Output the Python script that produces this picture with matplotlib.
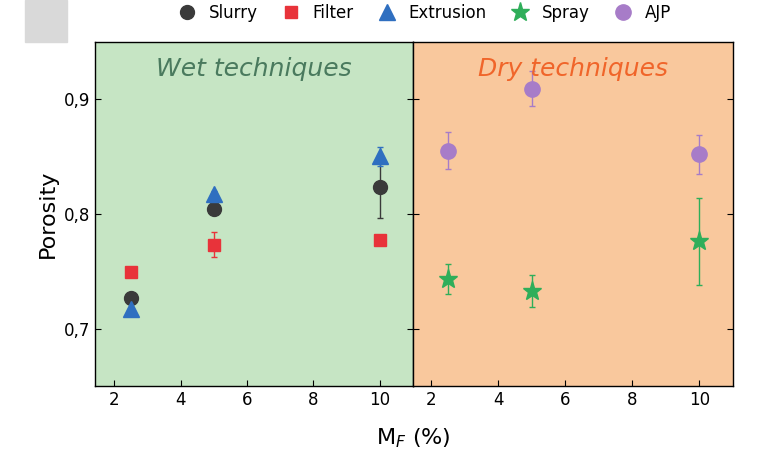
import matplotlib
matplotlib.use("Agg")
import matplotlib.pyplot as plt
from matplotlib.patches import Rectangle
from matplotlib.lines import Line2D

x = [2.5, 5, 10]
slurry = [0.727, 0.804, 0.823]; slurry_err = [0.003, 0.003, 0.027]
filt = [0.749, 0.773, 0.777]; filt_err = [0.003, 0.011, 0.003]
extr = [0.717, 0.817, 0.850]; extr_err = [0.006, 0.003, 0.008]
spray = [0.743, 0.733, 0.776]; spray_err = [0.013, 0.014, 0.038]
ajp = [0.855, 0.909, 0.852]; ajp_err = [0.016, 0.015, 0.017]
xticks = [2, 4, 6, 8, 10]
yticks = [0.7, 0.8, 0.9]
ylabels = ["0,7", "0,8", "0,9"]

fig = plt.figure(figsize=(7.65, 4.51), dpi=100)
fig.patches.append(Rectangle((25/765, 1-42/451), 42/765, 42/451, transform=fig.transFigure, color="#d9d9d9", zorder=0))
ax1 = fig.add_axes([95/765, 65/451, 318/765, 344/451])
ax2 = fig.add_axes([413/765, 65/451, 320/765, 344/451], sharey=ax1)
ax1.set_facecolor("#c6e5c4"); ax2.set_facecolor("#f9c89d")
ax1.set_xlim(1.42, 11.0); ax2.set_xlim(1.46, 11.0)
ax1.set_ylim(0.65, 0.9496)
ms = 11
styles = [("o", "#3a3a3a", ms-1, "Slurry"), ("s", "#e8333a", ms-2, "Filter"),
          ("^", "#2f6fc0", ms, "Extrusion"), ("*", "#2fae5a", ms+3, "Spray"), ("o", "#a77cc8", ms, "AJP")]
data = [(ax1, slurry, slurry_err), (ax1, filt, filt_err), (ax1, extr, extr_err), (ax2, spray, spray_err), (ax2, ajp, ajp_err)]
h = []
for (m, c, s, lab), (ax, y, e) in zip(styles, data):
    ax.errorbar(x, y, yerr=e, fmt=m, color=c, ms=s, capsize=2, lw=1)
    h.append(Line2D([], [], ls="", marker=m, color=c, ms=s, label=lab))
for ax in (ax1, ax2):
    ax.set_xticks(xticks)
    ax.tick_params(direction="in", labelsize=12, length=4, right=True)
    for sp in ax.spines.values(): sp.set_linewidth(1)
ax1.set_yticks(yticks); ax1.set_yticklabels(ylabels)
ax2.tick_params(labelleft=False)
ax1.set_ylabel("Porosity", fontsize=16, labelpad=4)
ax1.text(0.5, 0.955, "Wet techniques", transform=ax1.transAxes, ha="center", va="top", style="italic", fontsize=18, color="#4a7a5e")
ax2.text(0.5, 0.955, "Dry techniques", transform=ax2.transAxes, ha="center", va="top", style="italic", fontsize=18, color="#f0652a")
fig.text(413/765, (451-426)/451, "M$_F$ (%)", ha="center", va="top", fontsize=16)
fig.legend(handles=h, loc="upper center", bbox_to_anchor=(0.55, 1.025), ncol=5, frameon=False, fontsize=12, handletextpad=0.3, columnspacing=1.0)
fig.savefig("out.png", dpi=100)
